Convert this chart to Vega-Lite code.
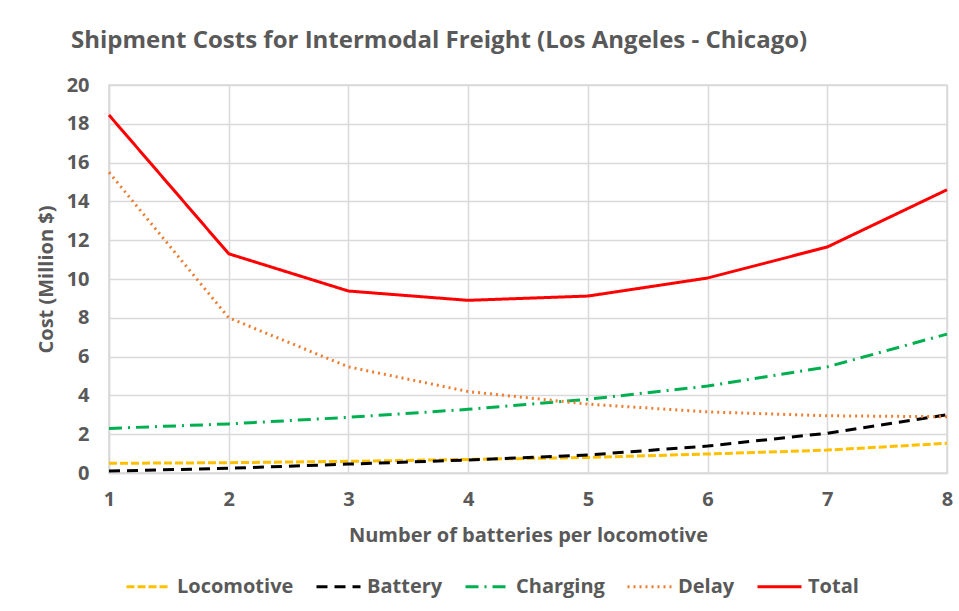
{
  "$schema": "https://vega.github.io/schema/vega-lite/v6.json",
  "autosize": {"type": "none"},
  "width": 838,
  "height": 388,
  "padding": {"left": 109, "top": 85, "right": 12, "bottom": 138},
  "background": "white",
  "config": {
    "font": "Open Sans",
    "view": {"stroke": "#d9d9d9", "strokeWidth": 1.5},
    "axis": {
      "labelFont": "Open Sans", "labelFontWeight": "bold", "labelFontSize": 20, "labelColor": "#595959",
      "titleFont": "Open Sans", "titleFontWeight": "bold", "titleFontSize": 20, "titleColor": "#595959",
      "gridColor": "#d9d9d9", "gridWidth": 1.5, "domainColor": "#d9d9d9", "domainWidth": 1.5, "ticks": false
    }
  },
  "title": {
    "text": "Shipment Costs for Intermodal Freight (Los Angeles - Chicago)",
    "anchor": "start", "frame": "group", "dx": -38, "offset": 22,
    "font": "Open Sans", "fontSize": 24, "fontWeight": "bold", "color": "#595959"
  },
  "data": {"values": [
    {"n": 1, "series": "Locomotive", "cost": 0.5},
    {"n": 2, "series": "Locomotive", "cost": 0.53},
    {"n": 3, "series": "Locomotive", "cost": 0.6},
    {"n": 4, "series": "Locomotive", "cost": 0.7},
    {"n": 5, "series": "Locomotive", "cost": 0.8},
    {"n": 6, "series": "Locomotive", "cost": 0.98},
    {"n": 7, "series": "Locomotive", "cost": 1.18},
    {"n": 8, "series": "Locomotive", "cost": 1.53},
    {"n": 1, "series": "Battery", "cost": 0.1},
    {"n": 2, "series": "Battery", "cost": 0.24},
    {"n": 3, "series": "Battery", "cost": 0.46},
    {"n": 4, "series": "Battery", "cost": 0.67},
    {"n": 5, "series": "Battery", "cost": 0.93},
    {"n": 6, "series": "Battery", "cost": 1.39},
    {"n": 7, "series": "Battery", "cost": 2.05},
    {"n": 8, "series": "Battery", "cost": 3.0},
    {"n": 1, "series": "Charging", "cost": 2.3},
    {"n": 2, "series": "Charging", "cost": 2.53},
    {"n": 3, "series": "Charging", "cost": 2.87},
    {"n": 4, "series": "Charging", "cost": 3.28},
    {"n": 5, "series": "Charging", "cost": 3.8},
    {"n": 6, "series": "Charging", "cost": 4.48},
    {"n": 7, "series": "Charging", "cost": 5.47},
    {"n": 8, "series": "Charging", "cost": 7.16},
    {"n": 1, "series": "Delay", "cost": 15.5},
    {"n": 2, "series": "Delay", "cost": 8.0},
    {"n": 3, "series": "Delay", "cost": 5.47},
    {"n": 4, "series": "Delay", "cost": 4.2},
    {"n": 5, "series": "Delay", "cost": 3.55},
    {"n": 6, "series": "Delay", "cost": 3.15},
    {"n": 7, "series": "Delay", "cost": 2.95},
    {"n": 8, "series": "Delay", "cost": 2.9},
    {"n": 1, "series": "Total", "cost": 18.45},
    {"n": 2, "series": "Total", "cost": 11.3},
    {"n": 3, "series": "Total", "cost": 9.38},
    {"n": 4, "series": "Total", "cost": 8.9},
    {"n": 5, "series": "Total", "cost": 9.12},
    {"n": 6, "series": "Total", "cost": 10.05},
    {"n": 7, "series": "Total", "cost": 11.65},
    {"n": 8, "series": "Total", "cost": 14.6}
  ]},
  "mark": {"type": "line", "strokeCap": "butt"},
  "encoding": {
    "x": {
      "field": "n", "type": "quantitative",
      "scale": {"domain": [1, 8], "nice": false},
      "axis": {"values": [1,2,3,4,5,6,7,8], "format": "d", "labelPadding": 16, "title": "Number of batteries per locomotive", "titlePadding": 16, "labelFlush": false}
    },
    "y": {
      "field": "cost", "type": "quantitative",
      "scale": {"domain": [0, 20], "nice": false},
      "axis": {"values": [0,2,4,6,8,10,12,14,16,18,20], "labelPadding": 20, "title": "Cost (Million $)", "titlePadding": 10}
    },
    "color": {
      "field": "series", "type": "nominal",
      "scale": {"domain": ["Locomotive","Battery","Charging","Delay","Total"], "range": ["#FFC000","#000000","#00B050","#ED7D31","#FF0000"]},
      "legend": {
        "title": null, "orient": "none", "legendX": 16, "legendY": 478, "direction": "horizontal", "columns": 5,
        "symbolType": "stroke", "symbolSize": 1936, "symbolStrokeWidth": 3.5, "labelOffset": 5, "columnPadding": 16,
        "labelFont": "Open Sans", "labelFontWeight": "bold", "labelFontSize": 20, "labelColor": "#595959"
      }
    },
    "strokeDash": {
      "field": "series", "type": "nominal",
      "scale": {"domain": ["Locomotive","Battery","Charging","Delay","Total"], "range": [[8,3],[11,7],[13,6,2,6],[2,4],[1,0]]},
      "legend": null
    },
    "strokeWidth": {
      "field": "series", "type": "nominal",
      "scale": {"domain": ["Locomotive","Battery","Charging","Delay","Total"], "range": [3,3,3,2.5,3.5]},
      "legend": null
    }
  }
}
